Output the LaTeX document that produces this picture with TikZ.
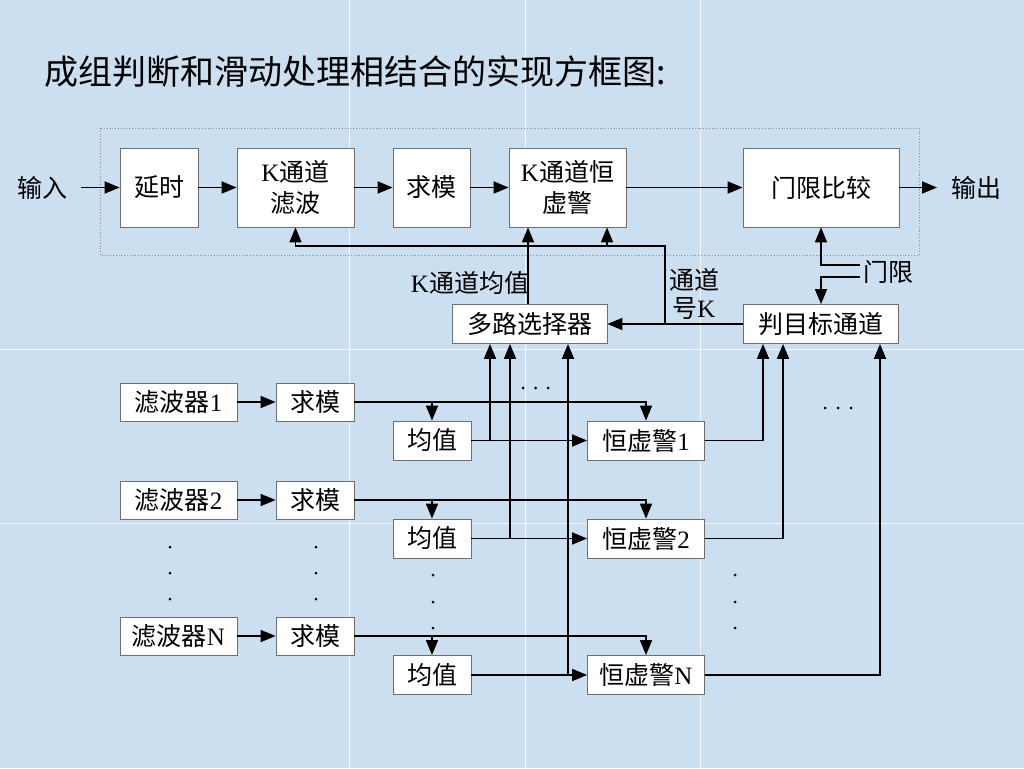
\documentclass[tikz,border=0pt]{standalone}
\usepackage{fontspec}
\setmainfont{Liberation Serif}
\newfontfamily\cjk{Noto Sans CJK SC}
\usetikzlibrary{arrows.meta}
\definecolor{bgblue}{RGB}{203,223,241}
\definecolor{boxline}{RGB}{110,110,110}
\newcommand\latn[1]{{\rmfamily #1}}
\begin{document}
\begin{tikzpicture}[x=1pt,y=-1pt,
  box/.style={draw=boxline, line width=0.8pt, fill=white, inner sep=0pt, align=center,
              font=\cjk\fontsize{25}{31}\selectfont},
  lbl/.style={inner sep=0pt, align=center, font=\cjk\fontsize{25}{30}\selectfont},
  wire/.style={line width=1.7pt, draw=black},
  arr/.style={wire, -{Triangle[length=15pt,width=12pt]}},
  bw/.style={minimum width=#1},
  bh/.style={minimum height=#1}
]
% background
\fill[bgblue] (0,0) rectangle (1024,768);
\useasboundingbox (0,0) rectangle (1024,768);
\foreach \xx in {349,525,700} \draw[white, opacity=0.8, line width=0.8pt] (\xx,0) -- (\xx,768);
\foreach \yy in {349,523} \draw[white, opacity=0.8, line width=0.8pt] (0,\yy) -- (1024,\yy);

% title
\node[anchor=west, inner sep=0pt, font=\cjk\fontsize{34}{40}\selectfont] (title) at (44,72)
  {成组判断和滑动处理相结合的实现方框图:};

% dotted frame
\draw[dotted, draw=black!45, line width=0.8pt] (100,128) rectangle (919,255);

% top row
\node[lbl] (in) at (42,187.5) {输入};
\node[lbl] (out) at (976,187.5) {输出};
\coordinate (inA) at (81,187.5);
\coordinate (outA) at (937,187.5);
\node[box, bw=78pt, bh=79pt] (delay) at (159,187.5) {延时};
\node[box, bw=117pt, bh=79pt] (kfilt) at (295.5,187.5) {\latn{K}通道\\滤波};
\node[box, bw=77pt, bh=79pt] (mod) at (431.5,187.5) {求模};
\node[box, bw=117pt, bh=79pt] (kcfar) at (567.5,187.5) {\latn{K}通道恒\\虚警};
\node[box, bw=156pt, bh=79pt] (thr) at (821,187.5) {门限比较};

\draw[arr] (inA) -- (delay);
\draw[arr] (delay) -- (kfilt);
\draw[arr] (kfilt) -- (mod);
\draw[arr] (mod) -- (kcfar);
\draw[arr] (kcfar) -- (thr);
\draw[arr] (thr) -- (outA);

% middle row
\node[box, bw=155pt, bh=39pt] (mux) at (529.5,324) {多路选择器};
\node[box, bw=155pt, bh=39pt] (judge) at (821,324) {判目标通道};
\node[lbl] (kmean) at (470,283) {\latn{K}通道均值};
\node[lbl, font=\cjk\fontsize{25}{28}\selectfont] (chk) at (694,294) {通道\\号\latn{K}};
\node[lbl] (thrlbl) at (888,272) {门限};

\coordinate (fbA) at (665,324);
\coordinate (fbTop) at (665,246);
\coordinate (brK) at (607,246);
\coordinate (kmx) at (528,300);
\coordinate (thA) at (860,265);
\coordinate (thB) at (860,277);

\draw[arr] (judge) -- (mux);
\draw[arr] (fbA) -- (fbTop) -| (kfilt.south);
\draw[arr] (brK) -- (brK |- kcfar.south);
\draw[arr] (kmx |- mux.north) -- (kmx |- kcfar.south);
\draw[arr] (thA) -| (thr.south);
\draw[arr] (thB) -| (judge.north);

% lower rows
\node[box, bw=117pt, bh=38pt] (f1) at (178.5,402) {滤波器\latn{1}};
\node[box, bw=78pt, bh=38pt] (m1) at (315,402) {求模};
\node[box, bw=78pt, bh=39pt] (avg1) at (432,440.5) {均值};
\node[box, bw=117pt, bh=39pt] (cf1) at (646,440.5) {恒虚警\latn{1}};

\node[box, bw=117pt, bh=38pt] (f2) at (178.5,500) {滤波器\latn{2}};
\node[box, bw=78pt, bh=38pt] (m2) at (315,500) {求模};
\node[box, bw=78pt, bh=39pt] (avg2) at (432,538.5) {均值};
\node[box, bw=117pt, bh=39pt] (cf2) at (646,538.5) {恒虚警\latn{2}};

\node[box, bw=117pt, bh=38pt] (fN) at (178.5,636) {滤波器\latn{N}};
\node[box, bw=78pt, bh=38pt] (mN) at (315,636) {求模};
\node[box, bw=78pt, bh=39pt] (avgN) at (432,675) {均值};
\node[box, bw=117pt, bh=39pt] (cfN) at (646,675) {恒虚警\latn{N}};

\coordinate (x490) at (490,0);
\coordinate (x510) at (510,0);
\coordinate (x568) at (568,0);
\coordinate (x763) at (763,0);
\coordinate (x783) at (783,0);
\coordinate (x880) at (880,0);

% row 1
\draw[arr] (f1) -- (m1);
\draw[arr] (m1.east) -| (cf1.north);
\draw[arr] (m1.east -| avg1.north) -- (avg1.north);
\draw[arr] (avg1) -- (cf1);
\draw[arr] (avg1.east -| x490) -- (mux.south -| x490);
\draw[arr] (cf1.east) -| (judge.south -| x763);
% row 2
\draw[arr] (f2) -- (m2);
\draw[arr] (m2.east) -| (cf2.north);
\draw[arr] (m2.east -| avg2.north) -- (avg2.north);
\draw[arr] (avg2) -- (cf2);
\draw[arr] (avg2.east -| x510) -- (mux.south -| x510);
\draw[arr] (cf2.east) -| (judge.south -| x783);
% row N
\draw[arr] (fN) -- (mN);
\draw[arr] (mN.east) -| (cfN.north);
\draw[arr] (mN.east -| avgN.north) -- (avgN.north);
\draw[arr] (avgN) -- (cfN);
\draw[arr] (avgN.east -| x568) -- (mux.south -| x568);
\draw[arr] (cfN.east) -| (judge.south -| x880);

% ellipsis dots
\foreach \px/\py in {523/388,535.5/388,548/388, 825/408,838/408,851/408,
  170/547,170/573,170/599, 316/547,316/573,316/599,
  433/575,433/602,433/628, 735/575,735/602,735/628}
  \fill (\px,\py) circle (1.5pt);
\end{tikzpicture}
\end{document}
